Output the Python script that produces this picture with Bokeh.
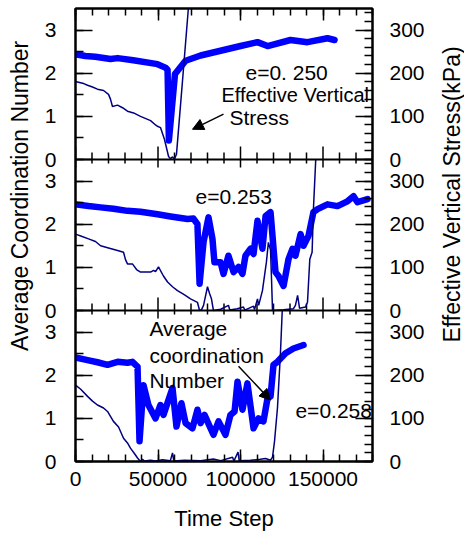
from math import pi
from bokeh.plotting import figure
from bokeh.models import Range1d, LinearAxis, FixedTicker, Label, Arrow, NormalHead, Span
from bokeh.layouts import row
from bokeh.embed import file_html
from bokeh.resources import INLINE

FONT = "Liberation Sans"

# ---------------- data ----------------
x_ticks = [0, 50000, 100000, 150000]
x_tick_labels = ["0", "50000", "100000", "150000"]
x_minor = list(range(0, 180001, 10000))
cn_ticks = [0, 1, 2, 3]
cn_tick_labels = ["0", "1", "2", "3"]
cn_minor = [0, 0.5, 1, 1.5, 2, 2.5, 3]
st_ticks = [0, 100, 200, 300]
st_tick_labels = ["0", "100", "200", "300"]
st_minor = list(range(0, 341, 20))
CN_MAX, ST_MAX = 3.5, 350

# panel 1 (top, e=0.250)
top_cn_t = [0, 6000, 12000, 21200, 25500, 35000, 49700, 54500, 55800, 56600, 60300, 66700, 75800, 87900, 100000, 110300, 116400, 130300, 140600, 152700, 157000]
top_cn = [2.44, 2.40, 2.38, 2.33, 2.35, 2.30, 2.21, 2.13, 2.08, 0.44, 1.98, 2.29, 2.41, 2.52, 2.63, 2.72, 2.63, 2.77, 2.72, 2.81, 2.77]
top_st_t = [0, 3000, 5000, 7300, 10300, 13300, 17000, 20000, 21200, 22400, 25500, 28500, 31500, 35200, 39400, 45500, 48500, 49700, 51500, 53900, 56400, 57600, 58800, 60000, 61200, 64800, 68400]
top_st = [181, 178, 176, 172, 168, 163, 160, 151, 140, 123, 126, 120, 112, 108, 100, 90, 80, 77, 74, 47, 7, 2, 6, 1, 12, 180, 350]

# panel 2 (middle, e=0.253)
mid_cn_t = [0, 7900, 15200, 23000, 31500, 39400, 49700, 57600, 67900, 71500, 73900, 75200, 77600, 80600, 83000, 84200, 87900, 89700, 92700, 95800, 98800, 101200, 103000, 106100, 107900, 110300, 113300, 115200, 118200, 121200, 123000, 126100, 129100, 131500, 133300, 136400, 138200, 141200, 144200, 146700, 152700, 158800, 164800, 168500, 170900, 177000]
mid_cn = [2.46, 2.42, 2.39, 2.36, 2.31, 2.29, 2.23, 2.18, 2.12, 2.13, 2.00, 0.62, 1.59, 2.16, 1.66, 1.12, 1.12, 0.85, 1.27, 0.89, 1.01, 0.85, 1.27, 1.43, 1.31, 2.08, 1.43, 2.19, 2.28, 0.89, 0.80, 0.57, 1.19, 1.43, 1.27, 1.77, 1.50, 1.73, 2.28, 2.35, 2.46, 2.42, 2.53, 2.65, 2.51, 2.58]
mid_st_t = [0, 3600, 7900, 12100, 15200, 20000, 25500, 29100, 30300, 31500, 34500, 37000, 39400, 45500, 47300, 48500, 50300, 53300, 55800, 58800, 61800, 66100, 69700, 73900, 75200, 76400, 77600, 80000, 81200, 82400, 83600, 88000, 92700, 93500, 98000, 101800, 102600, 107900, 108500, 110300, 111000, 113300, 115700, 116900, 118200, 118800, 119400, 126000, 132000, 133300, 134600, 135800, 139400, 140600, 142000, 143400, 144200, 145600]
mid_st = [177, 172, 166, 160, 150, 145, 139, 135, 118, 108, 108, 95, 89, 89, 93, 90, 101, 80, 66, 55, 46, 36, 27, 19, 0, 2, 12, 55, 40, 27, 0, 3, 12, 1, 4, 8, 1, 10, 2, 27, 12, 46, 112, 158, 140, 73, 0, 2, 4, 12, 35, 5, 8, 19, 119, 135, 235, 350]

# panel 3 (bottom, e=0.258)
bot_cn_t = [0, 7300, 13300, 19400, 25500, 31500, 34500, 36400, 37600, 38800, 41200, 44200, 48500, 51500, 53300, 58800, 61200, 64200, 66700, 70900, 73900, 75800, 78200, 83600, 86700, 90900, 93900, 96400, 98200, 101200, 104200, 107900, 110900, 113900, 116400, 118200, 120000, 122400, 127300, 132100, 138200]
bot_cn = [2.41, 2.35, 2.30, 2.24, 2.31, 2.29, 2.31, 2.24, 2.20, 0.47, 1.77, 1.31, 1.00, 1.31, 1.08, 1.70, 0.81, 1.35, 0.89, 0.77, 1.20, 0.89, 1.08, 0.62, 0.93, 0.62, 1.08, 1.16, 1.85, 1.20, 1.81, 0.77, 1.00, 0.93, 1.47, 1.51, 2.24, 2.31, 2.51, 2.62, 2.70]
bot_st_t = [0, 3000, 7300, 10300, 13300, 17000, 19400, 23000, 26100, 29100, 31500, 33300, 35800, 37600, 39400, 40600, 41800, 45500, 48500, 52700, 57500, 58800, 59600, 66000, 75800, 83600, 88000, 95200, 96000, 98500, 99200, 106000, 112000, 115200, 118200, 119400, 120600, 122400, 124200, 125300]
bot_st = [177, 168, 151, 140, 131, 124, 116, 93, 80, 54, 43, 31, 18, 8, 0, 5, 1, 3, 1, 4, 2, 20, 1, 3, 2, 6, 2, 10, 1, 22, 2, 3, 5, 7, 3, 10, 46, 124, 250, 350]

CN_COLOR = "#0000ff"
ST_COLOR = "#000080"

N_PANELS = 3
W_LEFT, W_MAIN, W_RIGHT = 34, 398, 32
H = 533
B_LEFT, B_RIGHT, B_TOP, B_BOTTOM = 41, 60, 8, 69
PX_PER_CN = (H - B_TOP - B_BOTTOM) / (N_PANELS * CN_MAX)


def style_axis(ax, tick_in, minor_in):
    ax.major_tick_in = tick_in
    ax.major_tick_out = 0
    ax.minor_tick_in = minor_in
    ax.minor_tick_out = 0
    ax.axis_line_width = 2
    ax.axis_line_color = "black"
    ax.major_tick_line_width = 1.5
    ax.minor_tick_line_width = 1.5
    ax.major_tick_line_color = "black"
    ax.minor_tick_line_color = "black"
    ax.major_label_text_font = FONT
    ax.major_label_text_font_size = "21px"
    ax.major_label_text_color = "black"


p = figure(width=W_MAIN, height=H, x_range=Range1d(0, 180000),
           y_range=Range1d(0, N_PANELS * CN_MAX),
           x_axis_location=None, y_axis_location=None,
           min_border_left=B_LEFT, min_border_right=B_RIGHT,
           min_border_top=B_TOP, min_border_bottom=B_BOTTOM,
           toolbar_location=None, output_backend="svg")
p.grid.visible = False
p.outline_line_color = "black"
p.outline_line_width = 2
p.background_fill_color = "white"
p.border_fill_color = "white"

# one y range per panel (k = 0 bottom ... 2 top), each panel occupies a third of the frame
extra = {"st_all": Range1d(0, N_PANELS * ST_MAX)}
for k in range(N_PANELS):
    extra[f"cn{k}"] = Range1d(-k * CN_MAX, (N_PANELS - k) * CN_MAX)
    extra[f"st{k}"] = Range1d(-k * ST_MAX, (N_PANELS - k) * ST_MAX)
p.extra_y_ranges = extra

# left axis: 0..3 repeated for every panel
lt, lov, lmin = [], {}, []
for k in range(N_PANELS):
    for t, s in zip(cn_ticks, cn_tick_labels):
        lt.append(t + k * CN_MAX)
        lov[t + k * CN_MAX] = s
    lmin += [m + k * CN_MAX for m in cn_minor]
left = LinearAxis(ticker=FixedTicker(ticks=lt, minor_ticks=lmin))
style_axis(left, 17, 8)
left.major_label_overrides = lov
left.major_label_standoff = 19
p.add_layout(left, "left")

rt, rov, rmin = [], {}, []
for k in range(N_PANELS):
    for t, s in zip(st_ticks, st_tick_labels):
        rt.append(t + k * ST_MAX)
        rov[t + k * ST_MAX] = s
    rmin += [m + k * ST_MAX for m in st_minor]
right = LinearAxis(y_range_name="st_all", ticker=FixedTicker(ticks=rt, minor_ticks=rmin))
style_axis(right, 17, 8)
right.major_label_overrides = rov
right.major_label_standoff = 17
p.add_layout(right, "right")

above = LinearAxis(ticker=FixedTicker(ticks=x_ticks, minor_ticks=x_minor))
style_axis(above, 12, 7)
above.major_label_text_color = None
above.major_label_standoff = 0
p.add_layout(above, "above")

below = LinearAxis(ticker=FixedTicker(ticks=x_ticks, minor_ticks=x_minor))
style_axis(below, 12, 7)
below.major_label_overrides = {t: s for t, s in zip(x_ticks, x_tick_labels)}
below.major_label_standoff = 10
below.axis_label = "Time Step"
below.axis_label_text_font = FONT
below.axis_label_text_font_size = "22px"
below.axis_label_text_font_style = "normal"
below.axis_label_text_color = "black"
below.axis_label_standoff = 17
p.add_layout(below, "below")

# panel separators with their x ticks
minor_only = [m for m in x_minor if m not in x_ticks]
for k in range(1, N_PANELS):
    b = k * CN_MAX
    p.add_layout(Span(location=b, dimension="width", line_color="black", line_width=2))
    p.segment(x0=minor_only, y0=[b - 4 / PX_PER_CN] * len(minor_only),
              x1=minor_only, y1=[b + 7 / PX_PER_CN] * len(minor_only),
              line_color="black", line_width=1.5)
    p.segment(x0=x_ticks, y0=[b - 8 / PX_PER_CN] * len(x_ticks),
              x1=x_ticks, y1=[b + 13 / PX_PER_CN] * len(x_ticks),
              line_color="black", line_width=1.5)

panels = [(bot_cn_t, bot_cn, bot_st_t, bot_st),
          (mid_cn_t, mid_cn, mid_st_t, mid_st),
          (top_cn_t, top_cn, top_st_t, top_st)]
for k, (ct, cv, stt, sv) in enumerate(panels):
    p.line(ct, cv, line_color=CN_COLOR, line_width=6.5, line_join="round",
           line_cap="round", y_range_name=f"cn{k}")
    p.line(stt, sv, line_color=ST_COLOR, line_width=1.5, y_range_name=f"st{k}")


def add_text(k, x, y, text, size="21px"):
    p.add_layout(Label(x=x, y=y, text=text, text_font=FONT, text_font_size=size,
                       text_color="black", text_align="left", text_baseline="middle",
                       y_range_name=f"cn{k}"))


def add_arrow(k, xs, ys, xe, ye):
    p.add_layout(Arrow(end=NormalHead(size=11, fill_color="black", line_color="black", line_width=1),
                       x_start=xs, y_start=ys, x_end=xe, y_end=ye,
                       line_color="black", line_width=1.5, y_range_name=f"cn{k}"))


add_text(2, 103000, 2.02, "e=0. 250")
add_text(2, 88500, 1.49, "Effective Vertical", "20px")
add_text(2, 93300, 0.98, "Stress")
add_arrow(2, 89700, 1.05, 70900, 0.70)

add_text(1, 72700, 2.65, "e=0.253")

add_text(0, 44800, 3.08, "Average")
add_text(0, 44800, 2.46, "coordination")
add_text(0, 44800, 1.88, "Number")
add_text(0, 133300, 1.19, "e=0.258")
add_arrow(0, 98800, 2.21, 118200, 1.42)


def label_fig(w, text, x, start_from_top):
    # text reads bottom-to-top and starts at the given distance from the top
    f = figure(width=w, height=H, x_range=Range1d(0, w), y_range=Range1d(0, H),
               toolbar_location=None, output_backend="svg", min_border=0,
               x_axis_location=None, y_axis_location=None)
    f.outline_line_color = None
    f.grid.visible = False
    f.add_layout(Label(x=x, y=H - start_from_top, text=text, angle=pi / 2, text_align="left",
                       text_baseline="middle", text_font=FONT, text_font_size="23px",
                       text_color="black"))
    return f


lf = label_fig(W_LEFT, "Average Coordination Number", 19.5, 403)
rf = label_fig(W_RIGHT, "Effective Vertical Stress(kPa)", 19, 393)

layout = row(lf, p, rf, spacing=0)

open("out.html", "w").write(file_html(layout, INLINE))
